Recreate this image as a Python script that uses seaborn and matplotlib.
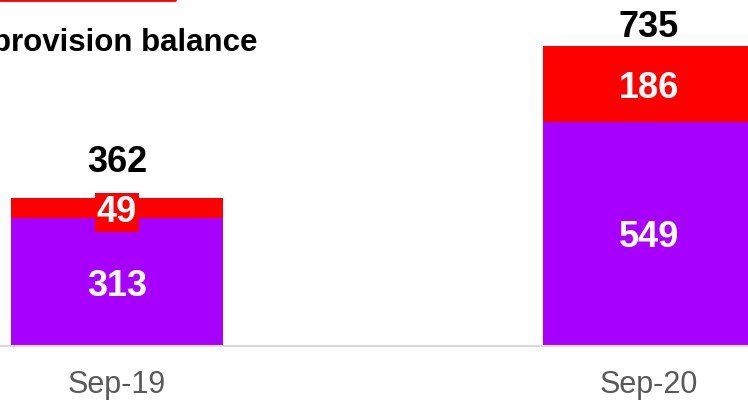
import matplotlib
matplotlib.use("Agg")
import matplotlib.pyplot as plt
import seaborn as sns
import pandas as pd
from matplotlib.lines import Line2D

periods = ["Sep-19", "Sep-20"]
base_provision = [313, 549]
overlay_provision = [49, 186]
totals = [362, 735]

PURPLE = "#A800FF"
RED = "#FF0000"

sns.set_theme(style="white")
plt.rcParams["font.family"] = ["Liberation Sans", "DejaVu Sans"]

df = pd.DataFrame({"period": periods, "base": base_provision,
                   "overlay": overlay_provision, "total": totals})

fig = plt.figure(figsize=(7.48, 4.0), dpi=100)
ax = fig.add_axes([0, 54 / 400, 1, 346 / 400])

# stacked bars: total in red, base portion in purple on top of it
sns.barplot(data=df, x="period", y="total", color=RED, width=0.4,
            saturation=1, linewidth=0, edgecolor="none", ax=ax)
sns.barplot(data=df, x="period", y="base", color=PURPLE, width=0.4,
            saturation=1, linewidth=0, edgecolor="none", ax=ax)

ax.set_xlim(-0.22, 1.186)
ax.set_ylim(0, 848)
ax.set_xlabel("")
ax.set_ylabel("")
ax.set_yticks([])
for s in ["top", "left", "right"]:
    ax.spines[s].set_visible(False)
ax.spines["bottom"].set_color("#d9d9d9")
ax.spines["bottom"].set_linewidth(1.5)
ax.tick_params(axis="x", length=0, pad=17, labelsize=22, labelcolor="#595959")

label_kw = dict(ha="center", va="center_baseline", fontsize=26, fontweight="bold")
total_offsets = [40, 23]
for i in range(len(periods)):
    ax.text(i, base_provision[i] / 2, str(base_provision[i]), color="white", **label_kw)
    seg_mid = base_provision[i] + overlay_provision[i] / 2
    if overlay_provision[i] < 100:
        ax.text(i, seg_mid, str(overlay_provision[i]), color="white",
                bbox=dict(facecolor=RED, edgecolor="none", pad=1.5), **label_kw)
    else:
        ax.text(i, seg_mid, str(overlay_provision[i]), color="white", **label_kw)
    ax.annotate(str(totals[i]), (i, totals[i]), xytext=(0, total_offsets[i] * 0.72),
                textcoords="offset points", color="black", **label_kw)

fig.text(-0.011, 1 - 40 / 400, "provision balance", ha="left", va="center_baseline",
         fontsize=22.5, fontweight="bold", color="black")
fig.add_artist(Line2D([0, 175 / 748], [0.999, 0.999], transform=fig.transFigure,
                      color=RED, linewidth=2))

fig.savefig("out.png", dpi=100)
